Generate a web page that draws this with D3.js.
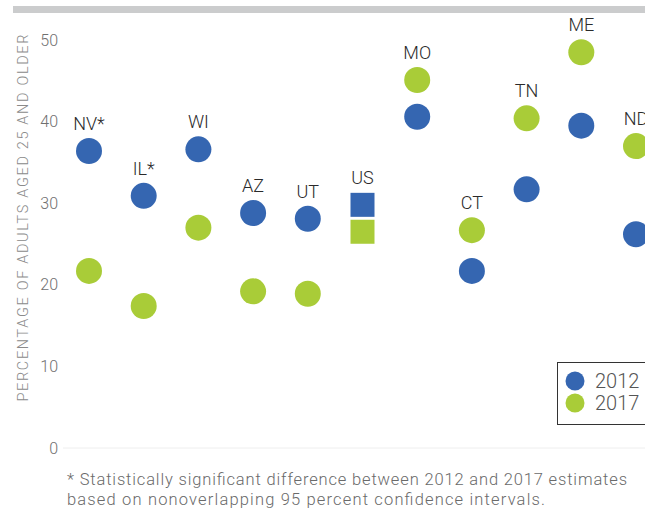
<!DOCTYPE html>
<html>
<head>
<meta charset="utf-8">
<script src="https://cdn.jsdelivr.net/npm/d3@7"></script>
<style>
    body { margin: 0; background: #fff; }
    svg { display: block; }
</style>
</head>
<body>
<div id="chart"></div>
<script>
// chart values
const states = ["NV*", "IL*", "WI", "AZ", "UT", "US", "MO", "CT", "TN", "ME", "ND"];
const values2012 = [36.4, 30.9, 36.6, 28.8, 28.1, 29.8, 40.6, 21.7, 31.7, 39.5, 26.2];
const values2017 = [21.7, 17.4, 27.0, 19.2, 18.9, 26.5, 45.1, 26.7, 40.4, 48.5, 37.0];
const yTicks = [0, 10, 20, 30, 40, 50];
const seriesNames = ["2012", "2017"];
const footnote = [
    "* Statistically significant difference between 2012 and 2017 estimates",
    "based on nonoverlapping 95 percent confidence intervals."
];

const blue = "#3566b1";
const green = "#a9cc38";
const font = "Roboto, sans-serif";

let width = 645, height = 510;

let svg = d3.select("#chart").append("svg")
    .attr("width", width)
    .attr("height", height)
    .style("font-family", font);

// grey band on top
svg.append("rect")
    .attr("x", 13).attr("y", 6)
    .attr("width", width - 13).attr("height", 7)
    .attr("fill", "#cbcccd");

// scales
let x = d3.scalePoint()
    .domain(states)
    .range([89, 636]);

let y = d3.scaleLinear()
    .domain([0, 50])
    .range([448, 40]);

// baseline
svg.append("line")
    .attr("x1", 63).attr("x2", width)
    .attr("y1", y(0)).attr("y2", y(0))
    .attr("stroke", "#eeeeee")
    .attr("stroke-width", 1);

// y axis
let yAxis = d3.axisLeft(y)
    .tickValues(yTicks)
    .tickSize(0)
    .tickPadding(0);

let yAxisG = svg.append("g")
    .attr("class", "y-axis")
    .attr("transform", "translate(58,0)")
    .call(yAxis);
yAxisG.select(".domain").remove();
yAxisG.selectAll("text")
    .attr("fill", "#707070")
    .style("font-size", "16px")
    .style("font-weight", "300")
    .style("font-family", font);

// axis title
svg.append("text")
    .attr("transform", "translate(28,218) rotate(-90)")
    .attr("text-anchor", "middle")
    .attr("fill", "#8a8a8a")
    .style("font-size", "14.5px")
    .style("font-weight", "300")
    .attr("textLength", 367)
    .text("PERCENTAGE OF ADULTS AGED 25 AND OLDER");

let data = states.map((s, i) => ({ state: s, v2012: values2012[i], v2017: values2017[i] }));
let stateData = data.filter(d => d.state !== "US");
let usData = data.filter(d => d.state === "US");

let r = 13;

// state circles
svg.selectAll(".dot2012")
    .data(stateData)
    .enter().append("circle")
    .attr("class", "dot2012")
    .attr("cx", d => x(d.state))
    .attr("cy", d => y(d.v2012))
    .attr("r", r)
    .attr("fill", blue);

svg.selectAll(".dot2017")
    .data(stateData)
    .enter().append("circle")
    .attr("class", "dot2017")
    .attr("cx", d => x(d.state))
    .attr("cy", d => y(d.v2017))
    .attr("r", r)
    .attr("fill", green);

// US squares
let sq = 24;
svg.selectAll(".us2012")
    .data(usData)
    .enter().append("rect")
    .attr("x", d => x(d.state) - sq / 2)
    .attr("y", d => y(d.v2012) - sq / 2)
    .attr("width", sq).attr("height", sq)
    .attr("fill", blue);

svg.selectAll(".us2017")
    .data(usData)
    .enter().append("rect")
    .attr("x", d => x(d.state) - sq / 2)
    .attr("y", d => y(d.v2017) - sq / 2)
    .attr("width", sq).attr("height", sq)
    .attr("fill", green);

// state labels above the higher marker
svg.selectAll(".state-label")
    .data(data)
    .enter().append("text")
    .attr("class", "state-label")
    .attr("x", d => x(d.state))
    .attr("y", d => y(Math.max(d.v2012, d.v2017)) - 21)
    .attr("text-anchor", "middle")
    .attr("fill", "#2a2a2a")
    .style("font-size", "18px")
    .style("font-weight", "300")
    .text(d => d.state);

// legend
let legend = svg.append("g")
    .attr("transform", "translate(557,362)");
legend.append("rect")
    .attr("x", 0.5).attr("y", 0.5)
    .attr("width", 100).attr("height", 62)
    .attr("fill", "#fff")
    .attr("stroke", "#333")
    .attr("stroke-width", 1);
[blue, green].forEach((c, i) => {
    legend.append("circle")
        .attr("cx", 18).attr("cy", 19 + i * 22)
        .attr("r", 9.5)
        .attr("fill", c);
    legend.append("text")
        .attr("x", 38).attr("y", 26 + i * 22)
        .attr("fill", "#555")
        .style("font-size", "20px")
        .style("font-weight", "300")
        .text(seriesNames[i]);
});

// footnote
let footLengths = [560, 478];
svg.selectAll(".footnote")
    .data(footnote)
    .enter().append("text")
    .attr("class", "footnote")
    .attr("x", 67)
    .attr("y", (d, i) => 485 + i * 19.5)
    .attr("fill", "#6a6a6a")
    .style("font-size", "16.5px")
    .style("font-weight", "300")
    .attr("textLength", (d, i) => footLengths[i])
    .text(d => d);
</script>
</body>
</html>
